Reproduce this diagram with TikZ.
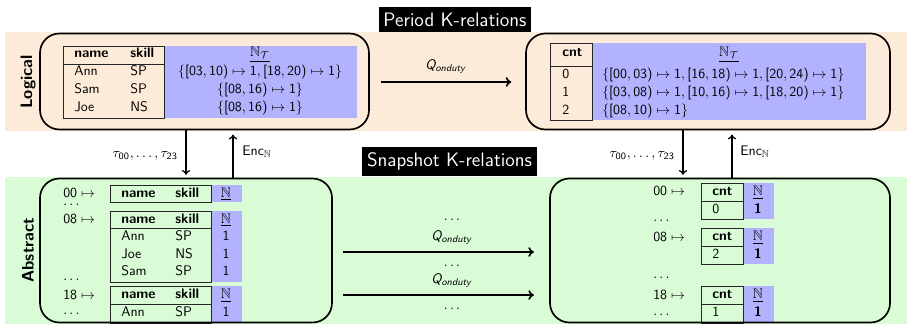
\documentclass[tikz,border=0pt]{standalone}
\usepackage{amssymb}
\DeclareMathVersion{sfmath}
\SetSymbolFont{operators}{sfmath}{OT1}{cmss}{m}{n}
\DeclareMathAlphabet{\mathsfit}{OT1}{cmss}{m}{sl}
\usetikzlibrary{arrows.meta,fit}
\definecolor{peach}{RGB}{253,235,218}
\definecolor{mint}{RGB}{217,252,214}
\definecolor{lav}{RGB}{178,178,255}
\newcommand{\Qon}{\mathsfit{Q}_{\mathsfit{onduty}}}
\tikzset{
  bigbox/.style={draw, line width=1.2pt, rounded corners=14pt, inner sep=0pt},
  titlebox/.style={fill=black, text=white, font=\fontsize{14}{16}\selectfont, inner xsep=3.5pt, inner ysep=4pt},
  sidelabel/.style={rotate=90, font=\large\bfseries},
  tab/.style={draw=black!85, line width=0.65pt, inner sep=0pt},
  tabline/.style={draw=black!85, line width=0.65pt},
  cell/.style={anchor=west, inner sep=0pt, text height=1.5ex, text depth=.25ex},
  ccell/.style={inner sep=0pt, text height=1.5ex, text depth=.25ex},
  dotsn/.style={anchor=west, inner sep=0pt},
  arr/.style={-{To[length=4pt,width=7pt]}, line width=1.2pt},
  varr/.style={-{To[length=3.5pt,width=6pt]}, line width=0.9pt},
}
\begin{document}
\begin{tikzpicture}[x=0.72pt,y=-0.72pt]
\sffamily\mathversion{sfmath}
\useasboundingbox (0,0) rectangle (907,324);
% bands
\fill[peach] (5,32) rectangle (907,131);
\fill[mint] (5,177) rectangle (907,324);
% titles
\node[titlebox] (ptitle) at (455,19.5) {Period K-relations};
\node[titlebox] (stitle) at (449.5,161.5) {Snapshot K-relations};
% side labels
\node[sidelabel] (lglab) at (28,82) {Logical};
\node[sidelabel] (ablab) at (28,250) {Abstract};

% ---------- logical left ----------
\fill[lav] (164,46) rectangle (357,118);
\node[tab, fit={(63,46)(164,118)}] (lt) {};
\draw[tabline] (lt.west |- 0,64) -- (lt.east |- 0,64);
\node[cell] (lth1) at (74,54) {\textbf{name}};
\node[cell] (lth2) at (130,54) {\textbf{skill}};
\node[cell] (lta1) at (74,72) {Ann};
\node[cell] (lta2) at (130,72) {SP};
\node[cell] (lts1) at (74,90) {Sam};
\node[cell] (lts2) at (130,90) {SP};
\node[cell] (ltj1) at (74,108) {Joe};
\node[cell] (ltj2) at (130,108) {NS};
\node[ccell] (ltk) at (260,53) {$\underline{\mathbb{N}_{\mathcal{T}}}$};
\node[ccell] (ltk1) at (260,72) {$\{[03,10)\mapsto 1,[18,20)\mapsto 1\}$};
\node[ccell] (ltk2) at (260,90) {$\{[08,16)\mapsto 1\}$};
\node[ccell] (ltk3) at (260,108) {$\{[08,16)\mapsto 1\}$};
\node[bigbox, fit={(40,33.5)(369,129.5)}] (logL) {};

% ---------- logical right ----------
\fill[lav] (592,43) rectangle (866,120);
\node[tab, fit={(550,43)(592,120)}] (rt) {};
\draw[tabline] (rt.west |- 0,66) -- (rt.east |- 0,66);
\node[cell] (rth) at (562,53) {\textbf{cnt}};
\node[cell] (rt0) at (562,75) {0};
\node[cell] (rt1) at (562,93) {1};
\node[cell] (rt2) at (562,111) {2};
\node[ccell] (rtk) at (729,53) {$\underline{\mathbb{N}_{\mathcal{T}}}$};
\node[cell] (rtk0) at (602,75) {$\{[00,03)\mapsto 1,[16,18)\mapsto 1,[20,24)\mapsto 1\}$};
\node[cell] (rtk1) at (602,93) {$\{[03,08)\mapsto 1,[10,16)\mapsto 1,[18,20)\mapsto 1\}$};
\node[cell] (rtk2) at (602,111) {$\{[08,10)\mapsto 1\}$};
\node[bigbox, fit={(526,33.5)(890,129.5)}] (logR) {};

% ---------- abstract left ----------
\node[dotsn] (al00) at (63,192.5) {$00\mapsto$};
\node[dotsn] (ald1) at (63,205) {$\dots$};
\node[dotsn] (al08) at (63,219) {$08\mapsto$};
\node[dotsn] (ald2) at (63,280) {$\dots$};
\node[dotsn] (al18) at (63,295) {$18\mapsto$};
\node[dotsn] (ald3) at (63,314) {$\dots$};
% table 1
\fill[lav] (211,185) rectangle (242,202);
\node[tab, fit={(110,185)(211,202)}] (a1) {};
\node[cell] (a1h1) at (121,193.5) {\textbf{name}};
\node[cell] (a1h2) at (175,193.5) {\textbf{skill}};
\node[ccell] (a1k) at (226,193.5) {$\underline{\mathbb{N}}$};
% table 2
\fill[lav] (211,211) rectangle (242,282);
\node[tab, fit={(110,211)(211,282)}] (a2) {};
\draw[tabline] (a2.west |- 0,228) -- (a2.east |- 0,228);
\node[cell] (a2h1) at (121,219.5) {\textbf{name}};
\node[cell] (a2h2) at (175,219.5) {\textbf{skill}};
\node[ccell] (a2k) at (226,219.5) {$\underline{\mathbb{N}}$};
\node[cell] (a2r11) at (121,237) {Ann};
\node[cell] (a2r12) at (175,237) {SP};
\node[ccell] (a2r13) at (226,237) {1};
\node[cell] (a2r21) at (121,255) {Joe};
\node[cell] (a2r22) at (175,255) {NS};
\node[ccell] (a2r23) at (226,255) {1};
\node[cell] (a2r31) at (121,272) {Sam};
\node[cell] (a2r32) at (175,272) {SP};
\node[ccell] (a2r33) at (226,272) {1};
% table 3
\fill[lav] (211,286) rectangle (242,323);
\node[tab, fit={(110,286)(211,323)}] (a3) {};
\draw[tabline] (a3.west |- 0,304) -- (a3.east |- 0,304);
\node[cell] (a3h1) at (121,295) {\textbf{name}};
\node[cell] (a3h2) at (175,295) {\textbf{skill}};
\node[ccell] (a3k) at (226,295) {$\underline{\mathbb{N}}$};
\node[cell] (a3r11) at (121,313) {Ann};
\node[cell] (a3r12) at (175,313) {SP};
\node[ccell] (a3r13) at (226,313) {1};
\node[bigbox, fit={(40,178.5)(332,322.5)}] (absL) {};

% ---------- abstract right ----------
\node[dotsn] (ar00) at (653,191) {$00\mapsto$};
\node[dotsn] (ard1) at (653,221) {$\dots$};
\node[dotsn] (ar08) at (653,237) {$08\mapsto$};
\node[dotsn] (ard2) at (653,278) {$\dots$};
\node[dotsn] (ar18) at (653,295) {$18\mapsto$};
\node[dotsn] (ard3) at (653,315) {$\dots$};
% table 1
\fill[lav] (743,183) rectangle (774,219);
\node[tab, fit={(701,183)(743,219)}] (b1) {};
\draw[tabline] (b1.west |- 0,201) -- (b1.east |- 0,201);
\node[cell] (b1h) at (712,192) {\textbf{cnt}};
\node[cell] (b1r) at (712,210) {0};
\node[ccell] (b1k) at (758,192) {$\underline{\mathbb{N}}$};
\node[ccell] (b1v) at (758,210) {\textbf{1}};
% table 2
\fill[lav] (743,228) rectangle (774,264);
\node[tab, fit={(701,228)(743,264)}] (b2) {};
\draw[tabline] (b2.west |- 0,246) -- (b2.east |- 0,246);
\node[cell] (b2h) at (712,237) {\textbf{cnt}};
\node[cell] (b2r) at (712,255) {2};
\node[ccell] (b2k) at (758,237) {$\underline{\mathbb{N}}$};
\node[ccell] (b2v) at (758,255) {\textbf{1}};
% table 3
\fill[lav] (743,286) rectangle (774,323);
\node[tab, fit={(701,286)(743,323)}] (b3) {};
\draw[tabline] (b3.west |- 0,304) -- (b3.east |- 0,304);
\node[cell] (b3h) at (712,295) {\textbf{cnt}};
\node[cell] (b3r) at (712,313) {1};
\node[ccell] (b3k) at (758,295) {$\underline{\mathbb{N}}$};
\node[ccell] (b3v) at (758,313) {\textbf{1}};
\node[bigbox, fit={(550,178.5)(890,322.5)}] (absR) {};

% ---------- connectors ----------
\draw[arr] ([xshift=8pt]logL.east |- 0,82) -- ([xshift=-10pt]logR.west |- 0,82);
\node (qtop) at (446,67) {$\Qon$};

\coordinate (m1) at (0,252);
\coordinate (m2) at (0,295);
\draw[arr] ([xshift=7pt]absL.east |- m1) -- ([xshift=-11pt]absR.west |- m1);
\draw[arr] ([xshift=7pt]absL.east |- m2) -- ([xshift=-11pt]absR.west |- m2);
\node[inner sep=0pt] (md1) at (452,220) {$\dots$};
\node (mq1) at (452,238) {$\Qon$};
\node[inner sep=0pt] (md2) at (452,266) {$\dots$};
\node (mq2) at (452,281) {$\Qon$};
\node[inner sep=0pt] (md3) at (452,309) {$\dots$};

\coordinate (vl1) at (186,0);
\coordinate (vl2) at (233,0);
\coordinate (vr1) at (683,0);
\coordinate (vr2) at (732,0);
\draw[varr] (logL.south -| vl1) -- ([yshift=2pt]absL.north -| vl1);
\draw[varr] (absL.north -| vl2) -- ([yshift=-3pt]logL.south -| vl2);
\draw[varr] (logR.south -| vr1) -- ([yshift=2pt]absR.north -| vr1);
\draw[varr] (absR.north -| vr2) -- ([yshift=-3pt]logR.south -| vr2);
\node[anchor=east, inner sep=0pt] (taul) at (178,156) {$\tau_{00},\dots,\tau_{23}$};
\node[anchor=west, inner sep=0pt] (encl) at (242,152) {Enc$_{\mathbb{N}}$};
\node[anchor=east, inner sep=0pt] (taur) at (675,156) {$\tau_{00},\dots,\tau_{23}$};
\node[anchor=west, inner sep=0pt] (encr) at (740,152) {Enc$_{\mathbb{N}}$};
\end{tikzpicture}
\end{document}
